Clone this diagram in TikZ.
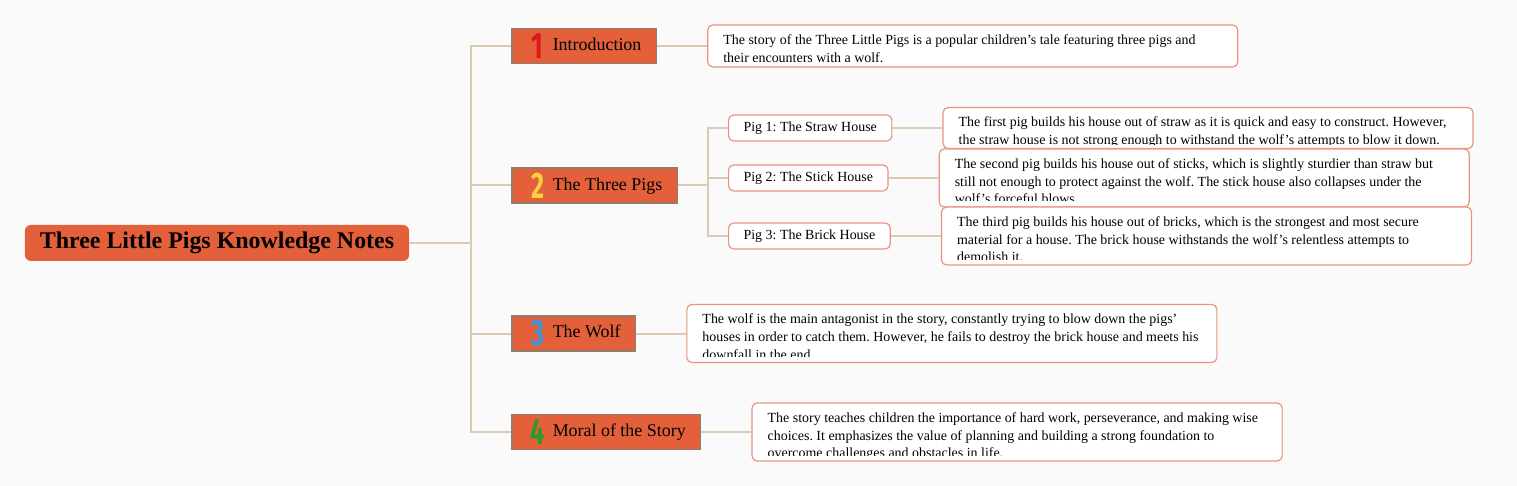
\documentclass[tikz,border=0pt]{standalone}
\usepackage{fontspec}
\setmainfont{Liberation Serif}
\newfontfamily\digitfont{Fira Sans}
\usetikzlibrary{positioning,calc}
\definecolor{Paper}{HTML}{FAFAFA}
\definecolor{Brick}{HTML}{E3603B}
\definecolor{BrickEdge}{HTML}{8E7D6B}
\definecolor{Straw}{HTML}{DCCBB3}
\definecolor{Salmon}{HTML}{E8957F}
\definecolor{NumRed}{HTML}{E0141E}
\definecolor{NumYellow}{HTML}{F7D23E}
\definecolor{NumBlue}{HTML}{3A98D8}
\definecolor{NumGreen}{HTML}{2A9A2C}
\newcommand\pignum[2]{\makebox[22bp]{\raisebox{-8bp}{\scalebox{0.68}[1]{\textcolor{#1}{\digitfont\bfseries\fontsize{37}{37}\selectfont #2}}}}\hspace{4bp}}
\frenchspacing

\begin{document}
\begin{tikzpicture}[x=1bp,y=-1bp,node distance=50bp,
  notegap/.store in=\notegap,notegap=6bp,
  root/.style={fill=Brick,rounded corners=6bp,minimum height=36bp,inner xsep=15bp,inner ysep=0pt,font=\fontsize{24}{24}\selectfont\bfseries},
  branch/.style={draw=BrickEdge,line width=1.5bp,fill=Brick,minimum height=35bp,inner xsep=15bp,inner ysep=0pt,anchor=west,font=\fontsize{18}{18}\selectfont},
  sub/.style={draw=Salmon,line width=1.2bp,fill=white,rounded corners=5bp,minimum height=26bp,inner xsep=15bp,inner ysep=0pt,anchor=west,font=\fontsize{14}{14}\selectfont},
  paraline/.style={draw=none,fill=none,minimum width=0pt,minimum height=0pt,anchor=north west,inner sep=0pt,align=left,font=\fontsize{14}{17.8}\selectfont},
  para/.style={draw=Salmon,line width=1.2bp,fill=white,rounded corners=5bp,minimum width=530bp,inner sep=0pt,
    path picture={\clip ([yshift=\notegap]path picture bounding box.south west) rectangle (path picture bounding box.north east);
      \node[paraline] at ([xshift=15bp,yshift=-9bp]path picture bounding box.north west) {#1};}},
  link/.style={draw=Straw,line width=2bp}]
\fill[Paper] (0,0) rectangle (1517,486);
% root and main branches
\node[root] (root) at (217,243) {Three Little Pigs Knowledge Notes};
\node[branch] (b1) at (511,46) {\pignum{NumRed}{1}Introduction};
\node[branch] (b2) at (511,185.5) {\pignum{NumYellow}{2}The Three Pigs};
\node[branch] (b3) at (511,333.5) {\pignum{NumBlue}{3}The Wolf};
\node[branch] (b4) at (511,432) {\pignum{NumGreen}{4}Moral of the Story};
% the three houses
\node[sub] (s1) at (728,128) {Pig 1: The Straw House};
\node[sub] (s2) at (728,178) {Pig 2: The Stick House};
\node[sub] (s3) at (728,236) {Pig 3: The Brick House};
% notes
\node[para={The story of the Three Little Pigs is a popular children's tale featuring three pigs and\\their encounters with a wolf.},notegap=1bp,minimum height=42bp,right=of b1] (t1) {};
\node[para={The first pig builds his house out of straw as it is quick and easy to construct. However,\\the straw house is not strong enough to withstand the wolf's attempts to blow it down.},notegap=4bp,minimum height=41bp,right=of s1] (t2) {};
\node[para={The second pig builds his house out of sticks, which is slightly sturdier than straw but\\still not enough to protect against the wolf. The stick house also collapses under the\\wolf's forceful blows.},minimum height=58bp,right=of s2] (t3) {};
\node[para={The third pig builds his house out of bricks, which is the strongest and most secure\\material for a house. The brick house withstands the wolf's relentless attempts to\\demolish it.},minimum height=58bp,right=of s3] (t4) {};
\node[para={The wolf is the main antagonist in the story, constantly trying to blow down the pigs'\\houses in order to catch them. However, he fails to destroy the brick house and meets his\\downfall in the end.},minimum height=58bp,right=of b3] (t5) {};
\node[para={The story teaches children the importance of hard work, perseverance, and making wise\\choices. It emphasizes the value of planning and building a strong foundation to\\overcome challenges and obstacles in life.},minimum height=58bp,right=of b4] (t6) {};
% connectors
\coordinate (trunk) at (471,243);
\coordinate (fork) at (708,185.5);
\draw[link] (root) -- (trunk);
\foreach \b in {b1,b2,b3,b4} \draw[link] (trunk) |- (\b);
\draw[link] (b2) -- (fork);
\foreach \s in {s1,s2,s3} \draw[link] (fork) |- (\s);
\draw[link] (b1) -- (t1);\draw[link] (s1) -- (t2);\draw[link] (s2) -- (t3);\draw[link] (s3) -- (t4);\draw[link] (b3) -- (t5);\draw[link] (b4) -- (t6);
\end{tikzpicture}
\end{document}
